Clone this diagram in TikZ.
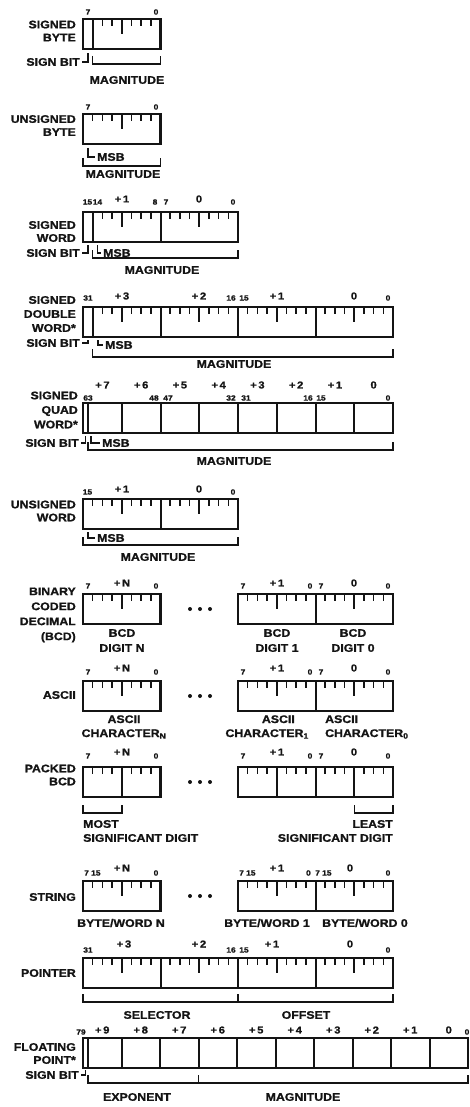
\documentclass[tikz,border=0pt]{standalone}
\usepackage{fontspec}
\setmainfont{Liberation Sans}[FakeStretch=1.12,BoldFeatures={FakeBold=1.2}]
\usetikzlibrary{positioning}
\definecolor{regink}{HTML}{141414}
\newcommand{\bitw}{9.6875}
\newcommand{\regbox}[3]{% left x, top y, width
  \draw[regline] (#1,#2) rectangle ++(#3,30);}
\newcommand{\regdiv}[2]{% x, top y
  \draw[divline] (#1,#2) -- ++(0,30);}
\newcommand{\regticks}[2]{% byte left x, top y
  \foreach \k/\len in {1/7,2/7,3/7,4/15,5/7,6/7,7/7}
    \draw[tickline] ({#1+\k*\bitw},#2) -- ++(0,\len);}
\newcommand{\fieldbrace}[3]{% from x, to x, bottom y
  \draw[brline] (#1,#3-8) -- (#1,#3) -- (#2,#3) -- (#2,#3-8);}
\newcommand{\gapdots}[1]{% centre y
  \foreach \dx in {190,200,210}
    \fill[regink] (\dx,#1) circle[radius=2pt];}

\begin{document}
\begin{tikzpicture}[x=1pt,y=-1pt,
    regline/.style={line width=2.6pt,draw=regink},
    divline/.style={line width=2pt,draw=regink},
    tickline/.style={line width=1.6pt,draw=regink},
    brline/.style={line width=1.5pt,draw=regink},
    typelbl/.style={anchor=east,align=right,inner sep=0pt,text=regink,font=\bfseries\fontsize{11}{13}\selectfont},
    fieldlbl/.style={inner sep=0pt,text=regink,font=\bfseries\fontsize{11}{14}\selectfont},
    bitnum/.style={inner sep=0pt,text=regink,font=\bfseries\fontsize{7.5}{8}\selectfont},
    bytenum/.style={inner sep=0pt,text=regink,font=\bfseries\fontsize{10}{10}\selectfont}]
  \useasboundingbox (0,0) rectangle (470,1107);

  % signed byte
  \regticks{83}{19}
  \regbox{83}{19}{77.5}
  \regdiv{92.7}{19}
  \node[bitnum] (sb-hi) at (88,12) {7};
  \node[bitnum] (sb-lo) at (156,12) {0};
  \node[typelbl] (sb-type) at (76,31) {SIGNED\\BYTE};
  \coordinate (sb-sbit) at (87.8,53);
  \node[fieldlbl,anchor=east] (sb-sign) at (80,62) {SIGN BIT};
  \draw[brline] ([xshift=2pt]sb-sign.east) -| (sb-sbit);
  \fieldbrace{92.7}{160.5}{64}
  \node[fieldlbl] (sb-mag) at (127,80) {MAGNITUDE};

  % unsigned byte
  \regticks{83}{114}
  \regbox{83}{114}{77.5}
  \node[bitnum] (ub-hi) at (88,107) {7};
  \node[bitnum] (ub-lo) at (156,107) {0};
  \node[typelbl] (ub-type) at (76,125.5) {UNSIGNED\\BYTE};
  \coordinate (ub-msbbit) at (87.8,148);
  \node[fieldlbl,anchor=west] (ub-msb) at (97,157) {MSB};
  \draw[brline] (ub-msbbit) |- ([xshift=-2pt]ub-msb.west);
  \fieldbrace{83}{160.5}{166}
  \node[fieldlbl] (ub-mag) at (123,174) {MAGNITUDE};

  % signed word
  \foreach \bx in {83,160.5} {\regticks{\bx}{212}}
  \regbox{83}{212}{155}
  \regdiv{160.5}{212}
  \regdiv{92.7}{212}
  \foreach \t/\x [count=\i] in {15/87.5,14/97.5,8/155,7/166,0/233}
    \node[bitnum] (sw-bit\i) at (\x,202) {\t};
  \node[bytenum] (sw-byte1) at (122,199) {+\,1};
  \node[bytenum] (sw-byte0) at (199,199) {0};
  \node[typelbl] (sw-type) at (76,231.5) {SIGNED\\WORD};
  \coordinate (sw-sbit) at (87.8,245);
  \node[fieldlbl,anchor=east] (sw-sign) at (80,253) {SIGN BIT};
  \draw[brline] ([xshift=2pt]sw-sign.east) -| (sw-sbit);
  \coordinate (sw-msbbit) at (97.5,245);
  \node[fieldlbl,anchor=west] (sw-msb) at (103,253) {MSB};
  \draw[brline] (sw-msbbit) |- ([xshift=-2pt]sw-msb.west);
  \fieldbrace{92.7}{238}{258}
  \node[fieldlbl] (sw-mag) at (162,270) {MAGNITUDE};

  % signed double word
  \foreach \bx in {83,160.5,238,315.5} {\regticks{\bx}{307}}
  \regbox{83}{307}{310}
  \foreach \dx in {160.5,238,315.5} {\regdiv{\dx}{307}}
  \regdiv{92.7}{307}
  \foreach \t/\x [count=\i] in {31/88,16/231,15/244,0/388}
    \node[bitnum] (sd-bit\i) at (\x,298) {\t};
  \foreach \t/\x [count=\i] in {+\,3/122,+\,2/199,+\,1/277,0/354}
    \node[bytenum] (sd-byte\i) at (\x,296) {\t};
  \node[typelbl,font=\bfseries\fontsize{11}{14}\selectfont] (sd-type) at (76,314) {SIGNED\\DOUBLE\\WORD*};
  \coordinate (sd-sbit) at (87.8,340);
  \node[fieldlbl,anchor=east] (sd-sign) at (80,343) {SIGN BIT};
  \draw[brline] ([xshift=2pt]sd-sign.east) -| (sd-sbit);
  \coordinate (sd-msbbit) at (98,340);
  \node[fieldlbl,anchor=west] (sd-msb) at (105,345) {MSB};
  \draw[brline] (sd-msbbit) |- ([xshift=-2pt]sd-msb.west);
  \fieldbrace{92.7}{393}{357}
  \node[fieldlbl] (sd-mag) at (234,364) {MAGNITUDE};

  % signed quad word
  \regbox{83}{403}{310}
  \foreach \k in {1,...,7} {\regdiv{83+\k*38.75}{403}}
  \regdiv{87.8}{403}
  \foreach \t [count=\i from 0] in {+\,7,+\,6,+\,5,+\,4,+\,3,+\,2,+\,1,0}
    \node[bytenum] (sq-byte\i) at ({83+(\i+0.5)*38.75},385) {\t};
  \foreach \t/\x [count=\i] in {63/88,48/154,47/168,32/231,31/246,16/308,15/321,0/388}
    \node[bitnum] (sq-bit\i) at (\x,398) {\t};
  \node[typelbl,font=\bfseries\fontsize{11}{14.5}\selectfont] (sq-type) at (78,410) {SIGNED\\QUAD\\WORD*};
  \coordinate (sq-sbit) at (85.4,436);
  \node[fieldlbl,anchor=east] (sq-sign) at (79,443) {SIGN BIT};
  \draw[brline] ([xshift=2pt]sq-sign.east) -| (sq-sbit);
  \coordinate (sq-msbbit) at (91,436);
  \node[fieldlbl,anchor=west] (sq-msb) at (102,443) {MSB};
  \draw[brline] (sq-msbbit) |- ([xshift=-2pt]sq-msb.west);
  \fieldbrace{88}{393}{450}
  \node[fieldlbl] (sq-mag) at (234,461) {MAGNITUDE};

  % unsigned word
  \foreach \bx in {83,160.5} {\regticks{\bx}{499}}
  \regbox{83}{499}{155}
  \regdiv{160.5}{499}
  \node[bitnum] (uw-hi) at (87.5,492) {15};
  \node[bitnum] (uw-lo) at (233,492) {0};
  \node[bytenum] (uw-byte1) at (122,489) {+\,1};
  \node[bytenum] (uw-byte0) at (199,489) {0};
  \node[typelbl] (uw-type) at (76,511) {UNSIGNED\\WORD};
  \coordinate (uw-msbbit) at (87.8,532);
  \node[fieldlbl,anchor=west] (uw-msb) at (97,538) {MSB};
  \draw[brline] (uw-msbbit) |- ([xshift=-2pt]uw-msb.west);
  \fieldbrace{83}{238}{545}
  \node[fieldlbl] (uw-mag) at (158,557) {MAGNITUDE};

  % binary coded decimal
  \foreach \bx in {83,238,315.5} {\regticks{\bx}{594}}
  \regbox{83}{594}{77.5}
  \regbox{238}{594}{155}
  \regdiv{315.5}{594}
  \gapdots{609}
  \foreach \t/\x [count=\i] in {7/88,0/156,7/243,0/310,7/321,0/388}
    \node[bitnum] (bcd-bit\i) at (\x,586) {\t};
  \foreach \t/\x [count=\i] in {+\,N/122,+\,1/277,0/354}
    \node[bytenum] (bcd-byte\i) at (\x,583) {\t};
  \node[typelbl,font=\bfseries\fontsize{11}{15}\selectfont] (bcd-type) at (76,615) {BINARY\\CODED\\DECIMAL\\(BCD)};
  \foreach \t/\x [count=\i] in {N/122,1/277,0/353}
    \node[fieldlbl,align=center,font=\bfseries\fontsize{11}{15}\selectfont] (bcd-dig\i) at (\x,640.5) {BCD\\DIGIT \t};

  % ascii
  \foreach \bx in {83,238,315.5} {\regticks{\bx}{681}}
  \regbox{83}{681}{77.5}
  \regbox{238}{681}{155}
  \regdiv{315.5}{681}
  \gapdots{696}
  \foreach \t/\x [count=\i] in {7/88,0/156,7/243,0/310,7/321,0/388}
    \node[bitnum] (as-bit\i) at (\x,672) {\t};
  \foreach \t/\x [count=\i] in {+\,N/122,+\,1/277,0/354}
    \node[bytenum] (as-byte\i) at (\x,668) {\t};
  \node[typelbl] (as-type) at (76,695) {ASCII};
  \node[fieldlbl,align=center] (as-chN) at (124,727) {ASCII\\CHARACTER\textsubscript{N}};
  \node[fieldlbl,align=right,anchor=east] (as-ch1) at (309,727) {ASCII\hspace*{14pt}\\CHARACTER\textsubscript{1}};
  \node[fieldlbl,align=left,anchor=west] (as-ch0) at (325,727) {ASCII\\CHARACTER\textsubscript{0}};

  % packed bcd
  \foreach \bx in {83,238,315.5} {\regticks{\bx}{767}}
  \regbox{83}{767}{77.5}
  \regbox{238}{767}{155}
  \foreach \dx in {121.75,276.75,315.5,354.25} {\regdiv{\dx}{767}}
  \gapdots{782}
  \foreach \t/\x [count=\i] in {7/88,0/156,7/243,0/310,7/321,0/388}
    \node[bitnum] (pb-bit\i) at (\x,756) {\t};
  \foreach \t/\x [count=\i] in {+\,N/122,+\,1/277,0/354}
    \node[bytenum] (pb-byte\i) at (\x,752) {\t};
  \node[typelbl] (pb-type) at (76,775) {PACKED\\BCD};
  \fieldbrace{83}{121.75}{813}
  \fieldbrace{354.25}{393}{813}
  \node[fieldlbl,align=left,anchor=west] (pb-most) at (83,831) {MOST\\SIGNIFICANT DIGIT};
  \node[fieldlbl,align=right,anchor=east] (pb-least) at (393,831) {LEAST\\SIGNIFICANT DIGIT};

  % string
  \foreach \bx in {83,238,315.5} {\regticks{\bx}{881}}
  \regbox{83}{881}{77.5}
  \regbox{238}{881}{155}
  \regdiv{315.5}{881}
  \gapdots{896}
  \node[bitnum,anchor=west] (st-hiN) at (84,873) {7 15};
  \node[bitnum] (st-loN) at (156,873) {0};
  \node[bitnum,anchor=west] (st-hi1) at (239,873) {7 15};
  \node[bitnum,anchor=east] (st-lo1) at (311,873) {0};
  \node[bitnum,anchor=west] (st-hi0) at (315,873) {7 15};
  \node[bitnum] (st-lo0) at (388,873) {0};
  \foreach \t/\x [count=\i] in {+\,N/122,+\,1/277,0/350}
    \node[bytenum] (st-byte\i) at (\x,868) {\t};
  \node[typelbl] (st-type) at (76,897) {STRING};
  \node[fieldlbl] (st-wN) at (121,923) {BYTE/WORD N};
  \node[fieldlbl,anchor=east] (st-w1) at (310,923) {BYTE/WORD 1};
  \node[fieldlbl,anchor=west] (st-w0) at (322,923) {BYTE/WORD 0};

  % pointer
  \foreach \bx in {83,160.5,238,315.5} {\regticks{\bx}{958}}
  \regbox{83}{958}{310}
  \foreach \dx in {160.5,238,315.5} {\regdiv{\dx}{958}}
  \foreach \t/\x [count=\i] in {31/88,16/231,15/244,0/388}
    \node[bitnum] (pt-bit\i) at (\x,950) {\t};
  \foreach \t/\x [count=\i] in {+\,3/124,+\,2/199,+\,1/272,0/350}
    \node[bytenum] (pt-byte\i) at (\x,944) {\t};
  \node[typelbl] (pt-type) at (76,973) {POINTER};
  \fieldbrace{83}{238}{1002}
  \fieldbrace{238}{393}{1002}
  \node[fieldlbl] (pt-sel) at (157,1015) {SELECTOR};
  \node[fieldlbl] (pt-off) at (306,1015) {OFFSET};

  % floating point
  \regbox{83}{1038}{385}
  \foreach \k in {1,...,9} {\regdiv{83+\k*38.5}{1038}}
  \regdiv{87.8}{1038}
  \foreach \t [count=\i from 0] in {+\,9,+\,8,+\,7,+\,6,+\,5,+\,4,+\,3,+\,2,+\,1,0}
    \node[bytenum] (fp-byte\i) at ({83+(\i+0.5)*38.5},1030) {\t};
  \node[bitnum] (fp-hi) at (81,1032) {79};
  \node[bitnum] (fp-lo) at (467,1032) {0};
  \node[typelbl] (fp-type) at (76,1053.5) {FLOATING\\POINT*};
  \coordinate (fp-sbit) at (85.4,1070);
  \node[fieldlbl,anchor=east] (fp-sign) at (79,1075) {SIGN BIT};
  \draw[brline] ([xshift=2pt]fp-sign.east) -| (fp-sbit);
  \fieldbrace{88}{198.5}{1083}
  \fieldbrace{198.5}{468}{1083}
  \node[fieldlbl] (fp-exp) at (137,1097) {EXPONENT};
  \node[fieldlbl] (fp-mag) at (303,1097) {MAGNITUDE};
\end{tikzpicture}
\end{document}
